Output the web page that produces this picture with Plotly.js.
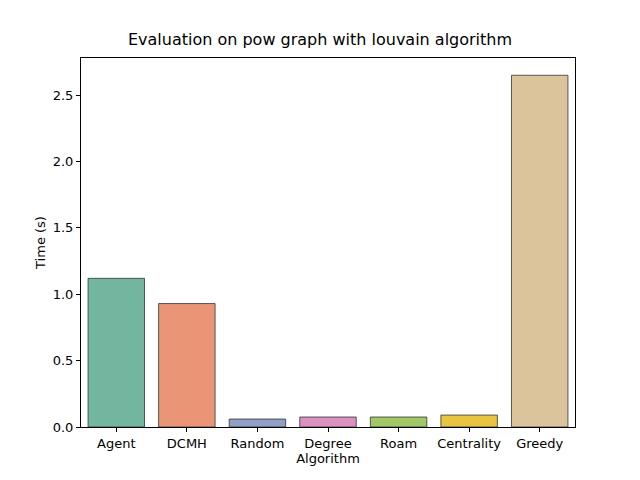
<!DOCTYPE html>
<html>
<head>
<script src="https://cdn.plot.ly/plotly-3.0.1.min.js"></script>
<style>body{margin:0}</style>
</head>
<body>
<div id="chart" style="width:640px;height:480px"></div>
<script>
// data
const algorithms = ["Agent", "DCMH", "Random", "Degree", "Roam", "Centrality", "Greedy"];
const times = [1.12, 0.93, 0.06, 0.075, 0.075, 0.09, 2.65];
const barColors = ["#73b6a0", "#ea9676", "#8fa0c4", "#dc92c0", "#a0c866", "#e8c440", "#dbc39c"];

const trace = {
    x: algorithms,
    y: times,
    type: "bar",
    width: 0.8,
    marker: {color: barColors, line: {color: "#333333", width: 0.8}}
};

const axisStyle = {
    showline: true,
    mirror: true,
    linecolor: "black",
    linewidth: 1,
    ticks: "outside",
    ticklen: 4,
    tickcolor: "black",
    showgrid: false,
    zeroline: false
};

const layout = {
    width: 640,
    height: 480,
    margin: {l: 81, r: 65, t: 58, b: 53},
    paper_bgcolor: "white",
    plot_bgcolor: "white",
    font: {family: "DejaVu Sans", size: 13, color: "black"},
    title: {text: "Evaluation on pow graph with louvain algorithm", font: {size: 16}, x: 0.5, y: 0.93, xanchor: "center"},
    xaxis: Object.assign({}, axisStyle, {
        title: {text: "Algorithm", font: {size: 13}, standoff: 4},
        range: [-0.5, 6.5]
    }),
    yaxis: Object.assign({}, axisStyle, {
        title: {text: "Time (s)", font: {size: 13}},
        range: [0, 2.78],
        tickvals: [0, 0.5, 1, 1.5, 2, 2.5],
        ticktext: ["0.0", "0.5", "1.0", "1.5", "2.0", "2.5"]
    }),
    showlegend: false
};

Plotly.newPlot("chart", [trace], layout, {staticPlot: true});
</script>
</body>
</html>
